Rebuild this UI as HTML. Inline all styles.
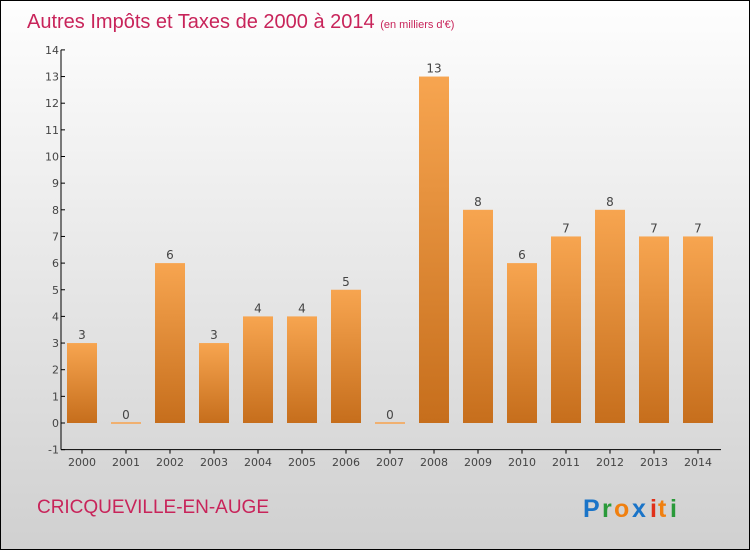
<!DOCTYPE html>
<html><head><meta charset="utf-8"><style>
body{margin:0}
#c{width:750px;height:550px;position:relative;box-sizing:border-box;border:1px solid #000;background:linear-gradient(#fefefe,#d0d0d0);font-family:"DejaVu Sans","Liberation Sans",sans-serif;overflow:hidden}
</style></head><body>
<div id="c">
<svg width="748" height="548" style="position:absolute;left:0;top:0" id="s">
<defs><linearGradient id="g" x1="0" y1="0" x2="0" y2="1"><stop offset="0" stop-color="#f7a550"/><stop offset="1" stop-color="#c66e1c"/></linearGradient></defs>
<text x="26" y="27" font-size="20" fill="#c8245a" font-family="Liberation Sans, sans-serif">Autres Impôts et Taxes de 2000 à 2014 <tspan font-size="11">(en milliers d'€)</tspan></text>
<text x="36" y="512" font-size="19" textLength="232" fill="#c8245a" font-family="Liberation Sans, sans-serif">CRICQUEVILLE-EN-AUGE</text>
<g font-family="Liberation Sans, sans-serif" font-weight="bold" font-size="25">
<text x="582" y="516" fill="#1a74c8">P</text><text x="601" y="516" fill="#2a9a3a">r</text><text x="613" y="516" fill="#f08010">o</text><text x="631" y="516" fill="#1a74c8">x</text><text x="649" y="516" fill="#e0301a">i</text><text x="657" y="516" fill="#f08010">t</text><text x="669" y="516" fill="#2a9a3a">i</text></g>
<g id="plot"></g>
</svg></div>
<script>
const years=["2000","2001","2002","2003","2004","2005","2006","2007","2008","2009","2010","2011","2012","2013","2014"];
const values=[3,0,6,3,4,4,5,0,13,8,6,7,8,7,7];
const yTicks=[-1,0,1,2,3,4,5,6,7,8,9,10,11,12,13,14];
const ns="http://www.w3.org/2000/svg",p=document.getElementById('plot');
const y=v=>422-v*26.65, x=i=>81+i*44;
function el(t,a){const e=document.createElementNS(ns,t);for(const k in a)e.setAttribute(k,a[k]);p.appendChild(e);return e;}
let e=el('line',{x1:60,y1:y(14),x2:60,y2:y(-1),stroke:'#000'});


e=el('line',{x1:60,y1:y(-1),x2:720,y2:y(-1),stroke:'#000'});


yTicks.forEach(t=>{
 el('line',{x1:60,y1:y(t),x2:64,y2:y(t),stroke:'#000'});
 const l=el('text',{x:58,y:y(t)+4,'font-size':11,fill:'#444','text-anchor':'end'});l.textContent=t;
 
 
});
years.forEach((yr,i)=>{
 el('line',{x1:x(i),y1:y(-1),x2:x(i),y2:y(-1)+4,stroke:'#000'});
 const l=el('text',{x:x(i),y:465,'font-size':11,fill:'#444','text-anchor':'middle'});l.textContent=yr;
 
 
 const v=values[i],h=Math.max(2,v*26.65);
 const b=el('rect',{x:x(i)-15,y:y(v)-(v===0?1:0),width:30,height:h,fill:v===0?'#f0b070':'url(#g)'});
 
 
 const t=el('text',{x:x(i),y:y(v)-4,'font-size':12,fill:'#444','text-anchor':'middle'});t.textContent=v;
 
 
});
</script></body></html>
